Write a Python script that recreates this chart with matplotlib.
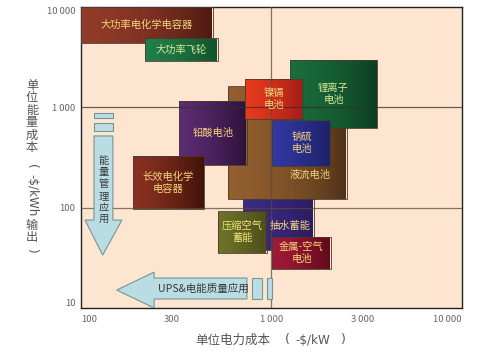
import numpy as np
import matplotlib.pyplot as plt
from matplotlib.colors import LinearSegmentedColormap
from matplotlib.patches import Rectangle, Polygon

plt.rcParams['font.family'] = ['Noto Sans CJK SC', 'DejaVu Sans']

# technology boxes: power cost range ($/kW) and energy cost range ($/kWh)
names = ['液流电池', '锂离子\n电池', '铅酸电池', '镍镉\n电池', '钠硫\n电池',
         '长效电化学\n电容器', '抽水蓄能', '压缩空气\n蓄能', '金属-空气\n电池',
         '大功率电化学电容器', '大功率飞轮']
kw_lo = [591, 1250, 327, 726, 1006, 187, 708, 524, 1006, 100, 217]
kw_hi = [2490, 3580, 743, 1462, 2050, 442, 1670, 946, 2050, 493, 524]
kwh_lo = [122, 622, 266, 764, 260, 96, 37.8, 35.3, 24.4, 4375, 2900]
kwh_hi = [1630, 2965, 1156, 1916, 747, 327, 122, 92.5, 51, 10000, 4910]
col_left = ['#94602f', '#1b6e3c', '#5e2c74', '#ea3c1c', '#3338a4', '#8c3222',
            '#3c2c84', '#6e742a', '#a21a3a', '#923c2a', '#22804a']
col_right = ['#4c3018', '#0b3c1f', '#2a1036', '#a01a18', '#1b2062', '#3c1008',
             '#2a1a5e', '#4a4a18', '#5c0818', '#4a1810', '#105028']
txt_col = ['#f2d27a', '#d6e896', '#f2d27a', '#f6d67a', '#f2d27a', '#f6d67a',
           '#f2d27a', '#f2e27a', '#f6d67a', '#f6d67a', '#d6e896']
# label positions where the text is not centred in its box
label_x = [None] * 11
label_y = [None] * 11
label_x[0], label_y[0] = 1590, 211
label_x[6], label_y[6] = 1250, 65.6

# annotation arrows (light blue)
v_arrow_x = [117, 147, 147, 164, 130, 105, 117]
v_arrow_y = [518, 518, 75.2, 75.2, 33.7, 75.2, 75.2]
v_bars_y = [(781, 877), (581, 697)]
h_arrow_x = [743, 242, 242, 154, 242, 242, 743]
h_arrow_y = [19.9, 19.9, 22.8, 15.1, 10.0, 12.3, 12.3]
h_bars_x = [(790, 892), (946, 1006)]

xticks = [100, 300, 1000, 3000, 10000]
xticklabels = ['100', '300', '1\u2009000', '3\u2009000', '10\u2009000']
yticks = [10, 100, 1000, 10000]
yticklabels = ['10', '100', '1\u2009000', '10\u2009000']

fig = plt.figure(figsize=(4.83, 3.55), dpi=100)
ax = fig.add_axes([0.1677, 0.1324, 0.7888, 0.8479])
ax.set_xscale('log')
ax.set_yscale('log')
ax.set_xlim(100, 10000)
ax.set_ylim(10, 10000)
ax.set_facecolor('#fde5cf')

grad = np.linspace(0, 1, 64).reshape(1, -1)
for i in range(len(names)):
    cmap = LinearSegmentedColormap.from_list('g%d' % i, [col_left[i], col_right[i]])
    z = 2 + i * 0.1
    rect = Rectangle((kw_lo[i], kwh_lo[i]), kw_hi[i] - kw_lo[i], kwh_hi[i] - kwh_lo[i],
                     fill=False, ec='#4a3a34', lw=0.6, zorder=z + 0.01)
    ax.add_patch(rect)
    # image a little larger than the box, then clipped to it
    im = ax.imshow(grad, cmap=cmap, aspect='auto', interpolation='bilinear',
                   extent=(kw_lo[i] * 0.97, kw_hi[i] * 1.03, kwh_lo[i] * 0.97, kwh_hi[i] * 1.03),
                   zorder=z)
    im.set_clip_path(rect)
    tx = label_x[i] if label_x[i] else np.sqrt(kw_lo[i] * kw_hi[i])
    ty = label_y[i] if label_y[i] else np.sqrt(kwh_lo[i] * kwh_hi[i])
    ax.text(tx, ty, names[i], ha='center', va='center', fontsize=7.4,
            color=txt_col[i], linespacing=1.25, zorder=10)
ax.set_xlim(100, 10000)
ax.set_ylim(10, 10000)

# reference lines
ax.axvline(1000, color='#5a4a3e', lw=0.9, alpha=0.75, zorder=5)
ax.axhline(1000, color='#3a2e26', lw=0.9, alpha=0.75, zorder=5)
ax.axhline(100, color='#5a4a3e', lw=0.9, alpha=0.75, zorder=5)

arrow_fc = '#badde3'
arrow_ec = '#74959a'
ax.add_patch(Polygon(list(zip(v_arrow_x, v_arrow_y)), closed=True, fc=arrow_fc,
                     ec=arrow_ec, lw=0.8, zorder=6))
for y0, y1 in v_bars_y:
    ax.add_patch(Rectangle((117, y0), 147 - 117, y1 - y0, fc=arrow_fc, ec=arrow_ec,
                           lw=0.8, zorder=6))
ax.add_patch(Polygon(list(zip(h_arrow_x, h_arrow_y)), closed=True, fc=arrow_fc,
                     ec=arrow_ec, lw=0.8, zorder=6))
for x0, x1 in h_bars_x:
    ax.add_patch(Rectangle((x0, 12.3), x1 - x0, 19.9 - 12.3, fc=arrow_fc, ec=arrow_ec,
                           lw=0.8, zorder=6))
ax.text(131, 150, '\n'.join('能量管理应用'), ha='center', va='center', fontsize=7.4,
        color='#3a3a3a', linespacing=1.22, zorder=10)
ax.text(440, 15.6, 'UPS&电能质量应用', ha='center', va='center', fontsize=7.6,
        color='#3a3a3a', zorder=10)

ax.set_xticks(xticks)
ax.set_xticklabels(xticklabels)
ax.set_yticks(yticks)
ax.set_yticklabels(yticklabels)
ax.minorticks_off()
ax.tick_params(length=0, labelsize=6.8, labelcolor='#666666')
ax.tick_params(axis='x', pad=5)
ax.tick_params(axis='y', pad=4)
xl = ax.get_xticklabels()
xl[0].set_ha('left')
xl[-1].set_ha('right')
yl = ax.get_yticklabels()
yl[0].set_va('bottom')
yl[-1].set_va('top')
for s in ax.spines.values():
    s.set_color('#222222')
    s.set_linewidth(1.0)

# x label in pieces to keep the wide gaps
lab_c = '#555555'
fig.text(195 / 483, 1 - 340 / 355, '单位电力成本', ha='left', va='center', fontsize=9, color=lab_c)
fig.text(287 / 483, 1 - 340 / 355, '(', ha='center', va='center', fontsize=9, color=lab_c,
         family='DejaVu Sans')
fig.text(313 / 483, 1 - 340 / 355, '-$/kW', ha='center', va='center', fontsize=8.6, color=lab_c,
         family='DejaVu Sans')
fig.text(343 / 483, 1 - 340 / 355, ')', ha='center', va='center', fontsize=9, color=lab_c,
         family='DejaVu Sans')

# stacked vertical y label
for k, ch in enumerate('单位能量成本'):
    fig.text(32 / 483, 1 - (85 + k * 12.6) / 355, ch, ha='center', va='center',
             fontsize=8.8, color=lab_c)
fig.text(32 / 483, 1 - 166 / 355, '(', ha='center', va='center', fontsize=8.8,
         color=lab_c, rotation=270, family='DejaVu Sans')
fig.text(32 / 483, 1 - 195 / 355, '-$/kWh', ha='center', va='center', fontsize=8.6,
         color=lab_c, rotation=270, family='DejaVu Sans')
fig.text(32 / 483, 1 - 225 / 355, '输', ha='center', va='center', fontsize=8.8, color=lab_c)
fig.text(32 / 483, 1 - 237.5 / 355, '出', ha='center', va='center', fontsize=8.8, color=lab_c)
fig.text(32 / 483, 1 - 250 / 355, ')', ha='center', va='center', fontsize=8.8,
         color=lab_c, rotation=270, family='DejaVu Sans')

fig.savefig('out.png', dpi=100)
